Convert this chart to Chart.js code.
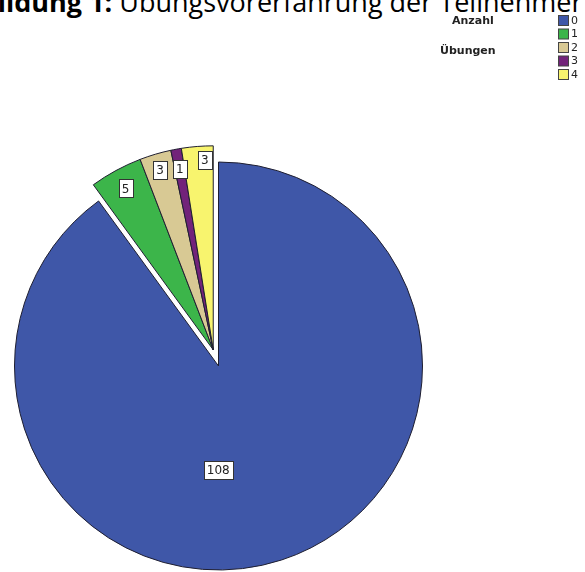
<!DOCTYPE html>
<html lang="de">
<head>
<meta charset="utf-8">
<script src="https://cdn.jsdelivr.net/npm/chart.js@4"></script>
<style>
  html, body { margin: 0; padding: 0; background: #fff; overflow: hidden; }
  #wrap { position: relative; width: 585px; height: 572px; }
  #titel {
    position: absolute; left: -55px; top: -12px; margin: 0;
    font-family: "Open Sans", sans-serif; font-size: 27px; font-weight: 400;
    line-height: 27px; white-space: nowrap; color: #000;
  }
  #titel b { font-weight: 700; }
  canvas { position: absolute; left: 0; top: 0; }
</style>
</head>
<body>
<div id="wrap">
  <p id="titel"><b>Abbildung 1:</b> Übungsvorerfahrung der Teilnehmer</p>
  <canvas id="torte" width="585" height="572"></canvas>
</div>
<script>
// Anzahl absolvierter Übungen und wie viele Teilnehmer darauf kommen
const kategorien = ['0', '1', '2', '3', '4']
const anzahl = [108, 5, 3, 1, 3]
const farben = ['#3f57a8', '#3cb54a', '#d8c994', '#72237a', '#f8f46e']
const legendenTitel = ['Anzahl', 'Übungen']

// kleine Segmente werden gemeinsam herausgezogen
const herausziehen = {
    id: 'herausziehen',
    afterDatasetsUpdate(chart, args, opts) {
        const arcs = chart.getDatasetMeta(0).data
        const gruppe = arcs.slice(1)
        const mitte = (gruppe[0].startAngle + gruppe[gruppe.length - 1].endAngle) / 2
        const dx = Math.cos(mitte) * opts.abstand
        const dy = Math.sin(mitte) * opts.abstand
        gruppe.forEach(arc => {
            arc.x += dx
            arc.y += dy
        })
    }
}

// Werte in weißen Kästchen auf den Segmenten
const wertKaestchen = {
    id: 'wertKaestchen',
    afterDatasetsDraw(chart, args, opts) {
        const ctx = chart.ctx
        const arcs = chart.getDatasetMeta(0).data
        ctx.save()
        ctx.font = '12px "DejaVu Sans", sans-serif'
        ctx.textAlign = 'center'
        ctx.textBaseline = 'middle'
        arcs.forEach((arc, i) => {
            const t = opts.anteil[i]
            const winkel = arc.startAngle + (arc.endAngle - arc.startAngle) * t
            const r = arc.outerRadius * opts.radius[i]
            const x = arc.x + Math.cos(winkel) * r
            const y = arc.y + Math.sin(winkel) * r
            const text = String(chart.data.datasets[0].data[i])
            const b = ctx.measureText(text).width + 6
            const h = 18
            ctx.fillStyle = '#fff'
            ctx.fillRect(Math.round(x - b / 2) + 0.5, Math.round(y - h / 2) + 0.5, Math.round(b), h)
            ctx.strokeStyle = '#333'
            ctx.lineWidth = 1
            ctx.strokeRect(Math.round(x - b / 2) + 0.5, Math.round(y - h / 2) + 0.5, Math.round(b), h)
            ctx.fillStyle = '#222'
            ctx.fillText(text, x, y + 1)
        })
        ctx.restore()
    }
}

// Legende oben rechts
const legende = {
    id: 'legende',
    afterDraw(chart, args, opts) {
        const ctx = chart.ctx
        ctx.save()
        ctx.font = 'bold 11px "DejaVu Sans", sans-serif'
        ctx.fillStyle = '#222'
        ctx.textBaseline = 'middle'
        ctx.fillText(legendenTitel[0], opts.titelX + 12, opts.y + 6)
        ctx.fillText(legendenTitel[1], opts.titelX, opts.y + 6 + opts.zeile * 2.2)
        ctx.font = '11px "DejaVu Sans", sans-serif'
        chart.data.labels.forEach((label, i) => {
            const y = opts.y + i * opts.zeile
            ctx.fillStyle = chart.data.datasets[0].backgroundColor[i]
            ctx.fillRect(opts.x + 0.5, y + 0.5, 10, 10)
            ctx.strokeStyle = '#444'
            ctx.strokeRect(opts.x + 0.5, y + 0.5, 10, 10)
            ctx.fillStyle = '#222'
            ctx.fillText(label, opts.x + 13, y + 6)
        })
        ctx.restore()
    }
}

const ctx = document.getElementById('torte')

new Chart(ctx, {
    type: 'pie',
    data: {
        labels: kategorien,
        datasets: [{
            data: anzahl,
            backgroundColor: farben,
            borderColor: '#1e1e30',
            borderWidth: 1
        }]
    },
    options: {
        responsive: false,
        animation: false,
        radius: 204,
        layout: { padding: { left: 0, right: 148, top: 160, bottom: 0 } },
        plugins: {
            legend: { display: false },
            tooltip: { enabled: false },
            herausziehen: { abstand: 17 },
            wertKaestchen: {
                anteil: [0.556, 0.5, 0.5, 0.5, 0.72],
                radius: [0.51, 0.9, 0.92, 0.9, 0.93]
            },
            legende: { x: 558, y: 15, zeile: 13.5, titelX: 440 }
        }
    },
    plugins: [herausziehen, wertKaestchen, legende]
})
</script>
</body>
</html>
